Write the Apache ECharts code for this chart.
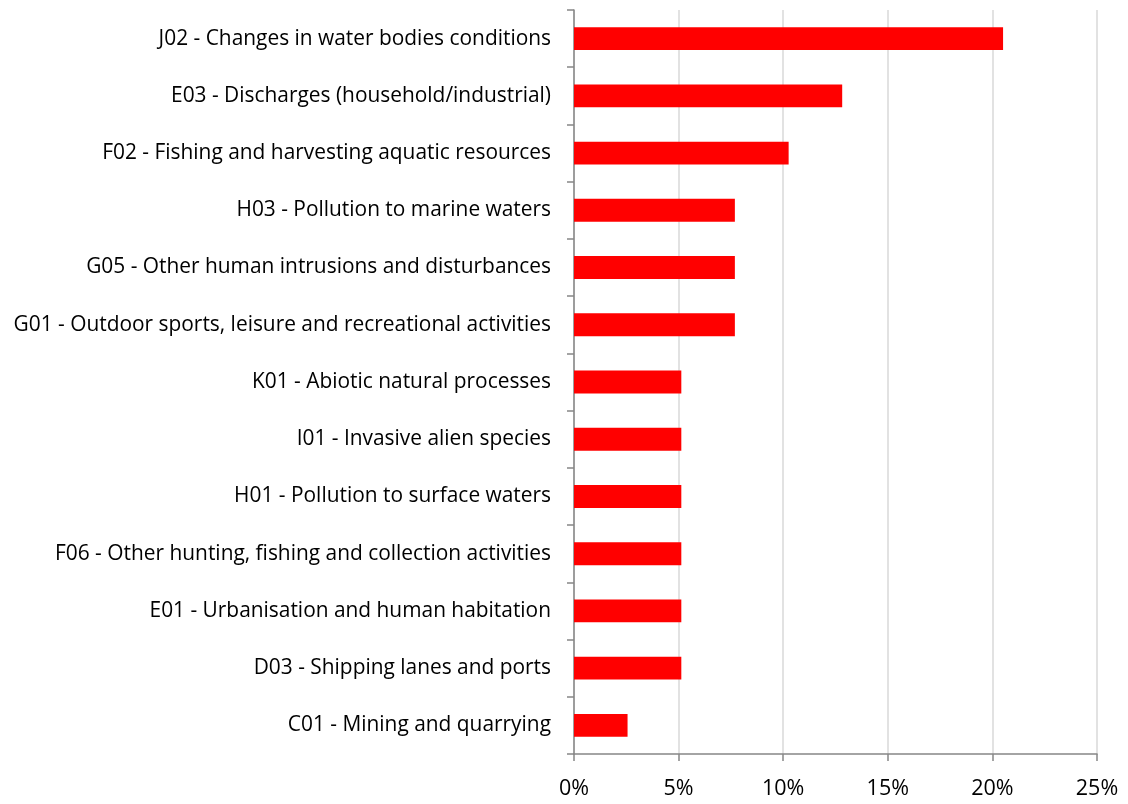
<!DOCTYPE html>
<html>
<head>
<meta charset="utf-8">
<style>
  html, body { margin: 0; padding: 0; background: #ffffff; }
  #chart { width: 1128px; height: 804px; }
</style>
<script src="https://cdn.jsdelivr.net/npm/echarts@6/dist/echarts.min.js"></script>
</head>
<body>
<div id="chart"></div>
<script>
// Pressure categories, top to bottom
const categories = [
  'J02 - Changes in water bodies conditions',
  'E03 - Discharges (household/industrial)',
  'F02 - Fishing and harvesting aquatic resources',
  'H03 - Pollution to marine waters',
  'G05 - Other human intrusions and disturbances',
  'G01 - Outdoor sports, leisure and recreational activities',
  'K01 - Abiotic natural processes',
  'I01 - Invasive alien species',
  'H01 - Pollution to surface waters',
  'F06 - Other hunting, fishing and collection activities',
  'E01 - Urbanisation and human habitation',
  'D03 - Shipping lanes and ports',
  'C01 - Mining and quarrying'
];

// Share of reported pressures (%)
const shares = [20.51, 12.82, 10.26, 7.69, 7.69, 7.69, 5.13, 5.13, 5.13, 5.13, 5.13, 5.13, 2.56];

// X axis ticks (%)
const tickMin = 0;
const tickMax = 25;
const tickStep = 5;

const FONT = '"Open Sans", Lato, sans-serif';
const chart = echarts.init(document.getElementById('chart'), null, { renderer: 'canvas' });

chart.setOption({
  animation: false,
  backgroundColor: '#ffffff',
  grid: { left: 574, right: 31, top: 10, bottom: 50, containLabel: false },
  xAxis: {
    type: 'value',
    min: tickMin,
    max: tickMax,
    interval: tickStep,
    axisLine: { show: true, lineStyle: { color: '#868686', width: 1.5 } },
    axisTick: { show: true, length: 7, lineStyle: { color: '#868686', width: 1.5 } },
    axisLabel: {
      formatter: v => v + '%',
      color: '#000000',
      fontFamily: FONT,
      fontSize: 21.5,
      margin: 24
    },
    splitLine: { show: true, lineStyle: { color: '#d9d9d9', width: 1.5 } }
  },
  yAxis: {
    type: 'category',
    inverse: true,
    data: categories,
    axisLine: { show: true, lineStyle: { color: '#868686', width: 1.5 } },
    axisTick: { show: true, length: 7, lineStyle: { color: '#868686', width: 1.5 } },
    axisLabel: {
      color: '#000000',
      fontFamily: FONT,
      fontSize: 20.9,
      margin: 23
    },
    splitLine: { show: false }
  },
  series: [{
    type: 'bar',
    data: shares,
    barWidth: '40%',
    itemStyle: { color: '#ff0000' }
  }]
});
</script>
</body>
</html>
